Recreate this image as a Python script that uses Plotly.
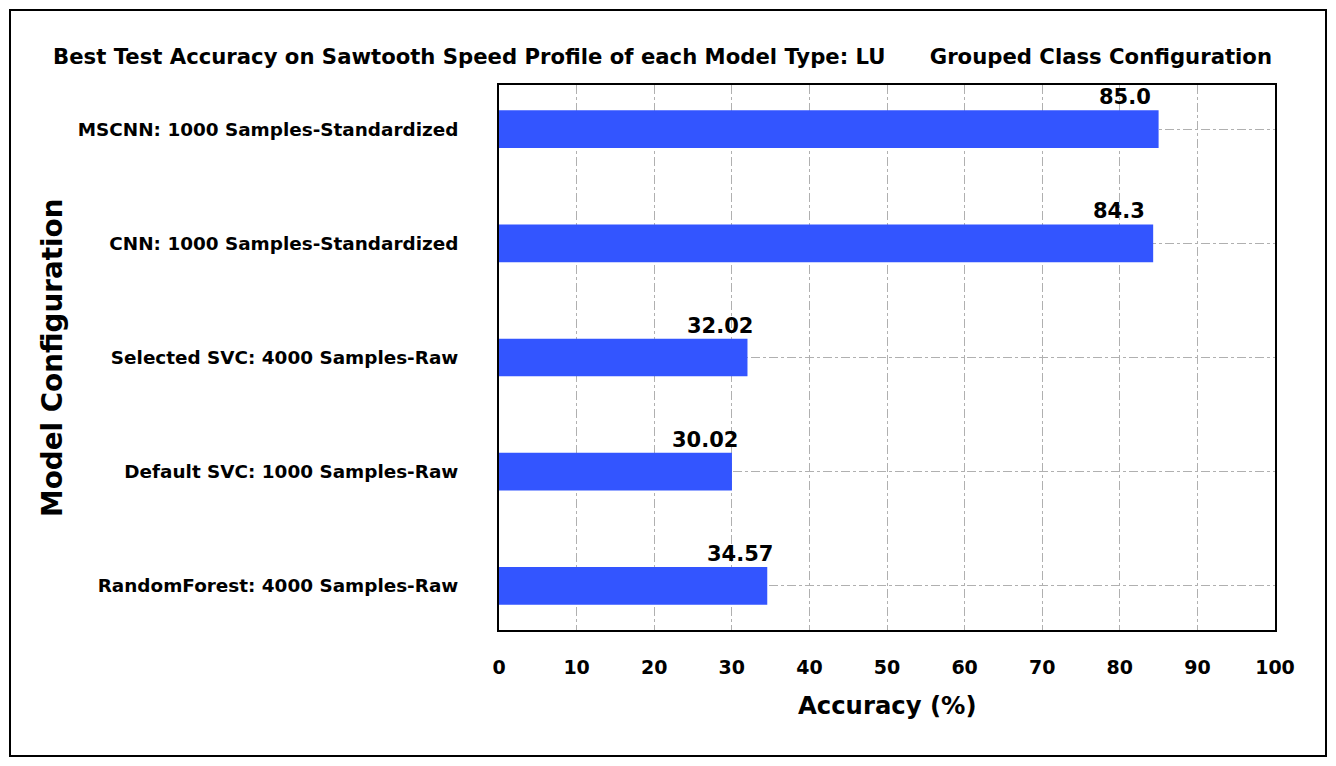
import plotly.graph_objects as go

models = [
    "MSCNN: 1000 Samples-Standardized",
    "CNN: 1000 Samples-Standardized",
    "Selected SVC: 4000 Samples-Raw",
    "Default SVC: 1000 Samples-Raw",
    "RandomForest: 4000 Samples-Raw",
]
accuracy = [85.0, 84.3, 32.02, 30.02, 34.57]
value_labels = ["85.0", "84.3", "32.02", "30.02", "34.57"]
x_ticks = [0, 10, 20, 30, 40, 50, 60, 70, 80, 90, 100]

W, H = 1336, 766
L, R, T, B = 499, 1275, 85, 630
FONT = "DejaVu Sans"

def px_x(x):
    return (x - L) / (R - L)

def px_y(y):
    return (B - y) / (B - T)

fig = go.Figure()
fig.add_trace(go.Bar(
    y=models, x=accuracy, orientation="h", width=0.33,
    marker=dict(color="#3355ff", line=dict(width=0)),
    hoverinfo="x+y",
))

annotations = []
for m, v, lab in zip(models, accuracy, value_labels):
    annotations.append(dict(
        x=v, y=m, xref="x", yref="y", text="<b>%s</b>" % lab,
        showarrow=False, xanchor="left", yanchor="middle",
        xshift=-62, yshift=32,
        font=dict(family=FONT, size=21, color="black"),
    ))

annotations.append(dict(
    x=px_x(662.5), y=px_y(56), xref="paper", yref="paper",
    text="<b>Best Test Accuracy on Sawtooth Speed Profile of each Model Type: LU" + "\u00a0" * 6 + "Grouped Class Configuration</b>",
    showarrow=False, xanchor="center", yanchor="middle",
    font=dict(family=FONT, size=21.2, color="black"),
))
annotations.append(dict(
    x=px_x(887), y=px_y(705), xref="paper", yref="paper",
    text="<b>Accuracy (%)</b>", showarrow=False,
    xanchor="center", yanchor="middle",
    font=dict(family=FONT, size=24.3, color="black"),
))
annotations.append(dict(
    x=px_x(52), y=px_y(358), xref="paper", yref="paper",
    text="<b>Model Configuration</b>", showarrow=False, textangle=-90,
    xanchor="center", yanchor="middle",
    font=dict(family=FONT, size=27.8, color="black"),
))

fig.update_layout(
    width=W, height=H,
    margin=dict(l=L, r=W - R, t=T, b=H - B, autoexpand=False),
    paper_bgcolor="white", plot_bgcolor="white",
    showlegend=False,
    annotations=annotations,
    font=dict(family=FONT, color="black"),
    shapes=[dict(
        type="rect", xref="paper", yref="paper",
        x0=px_x(10), x1=px_x(1326), y0=px_y(756), y1=px_y(10),
        line=dict(color="black", width=2), fillcolor="rgba(0,0,0,0)",
        layer="below",
    )],
    xaxis=dict(
        range=[0, 100], tickmode="array", tickvals=x_ticks,
        ticktext=["<b>%d</b>" % t for t in x_ticks],
        tickfont=dict(family=FONT, size=19, color="black"),
        showgrid=True, gridcolor="#b0b0b0", griddash="dashdot", gridwidth=1,
        showline=True, linecolor="black", linewidth=2, mirror=True,
        ticks="", zeroline=False, layer="above traces",
        ticklabelstandoff=19,
    ),
    yaxis=dict(
        type="category", categoryorder="array", categoryarray=models,
        range=[4.386, -0.386],
        tickmode="array", tickvals=models,
        ticktext=["<b>%s</b>" % m for m in models],
        tickfont=dict(family=FONT, size=18.4, color="black"),
        showgrid=True, gridcolor="#b0b0b0", griddash="dashdot", gridwidth=1,
        showline=True, linecolor="black", linewidth=2, mirror=True,
        ticks="", zeroline=False, layer="above traces",
        ticklabelstandoff=35,
    ),
)

fig.write_html("out.html")
